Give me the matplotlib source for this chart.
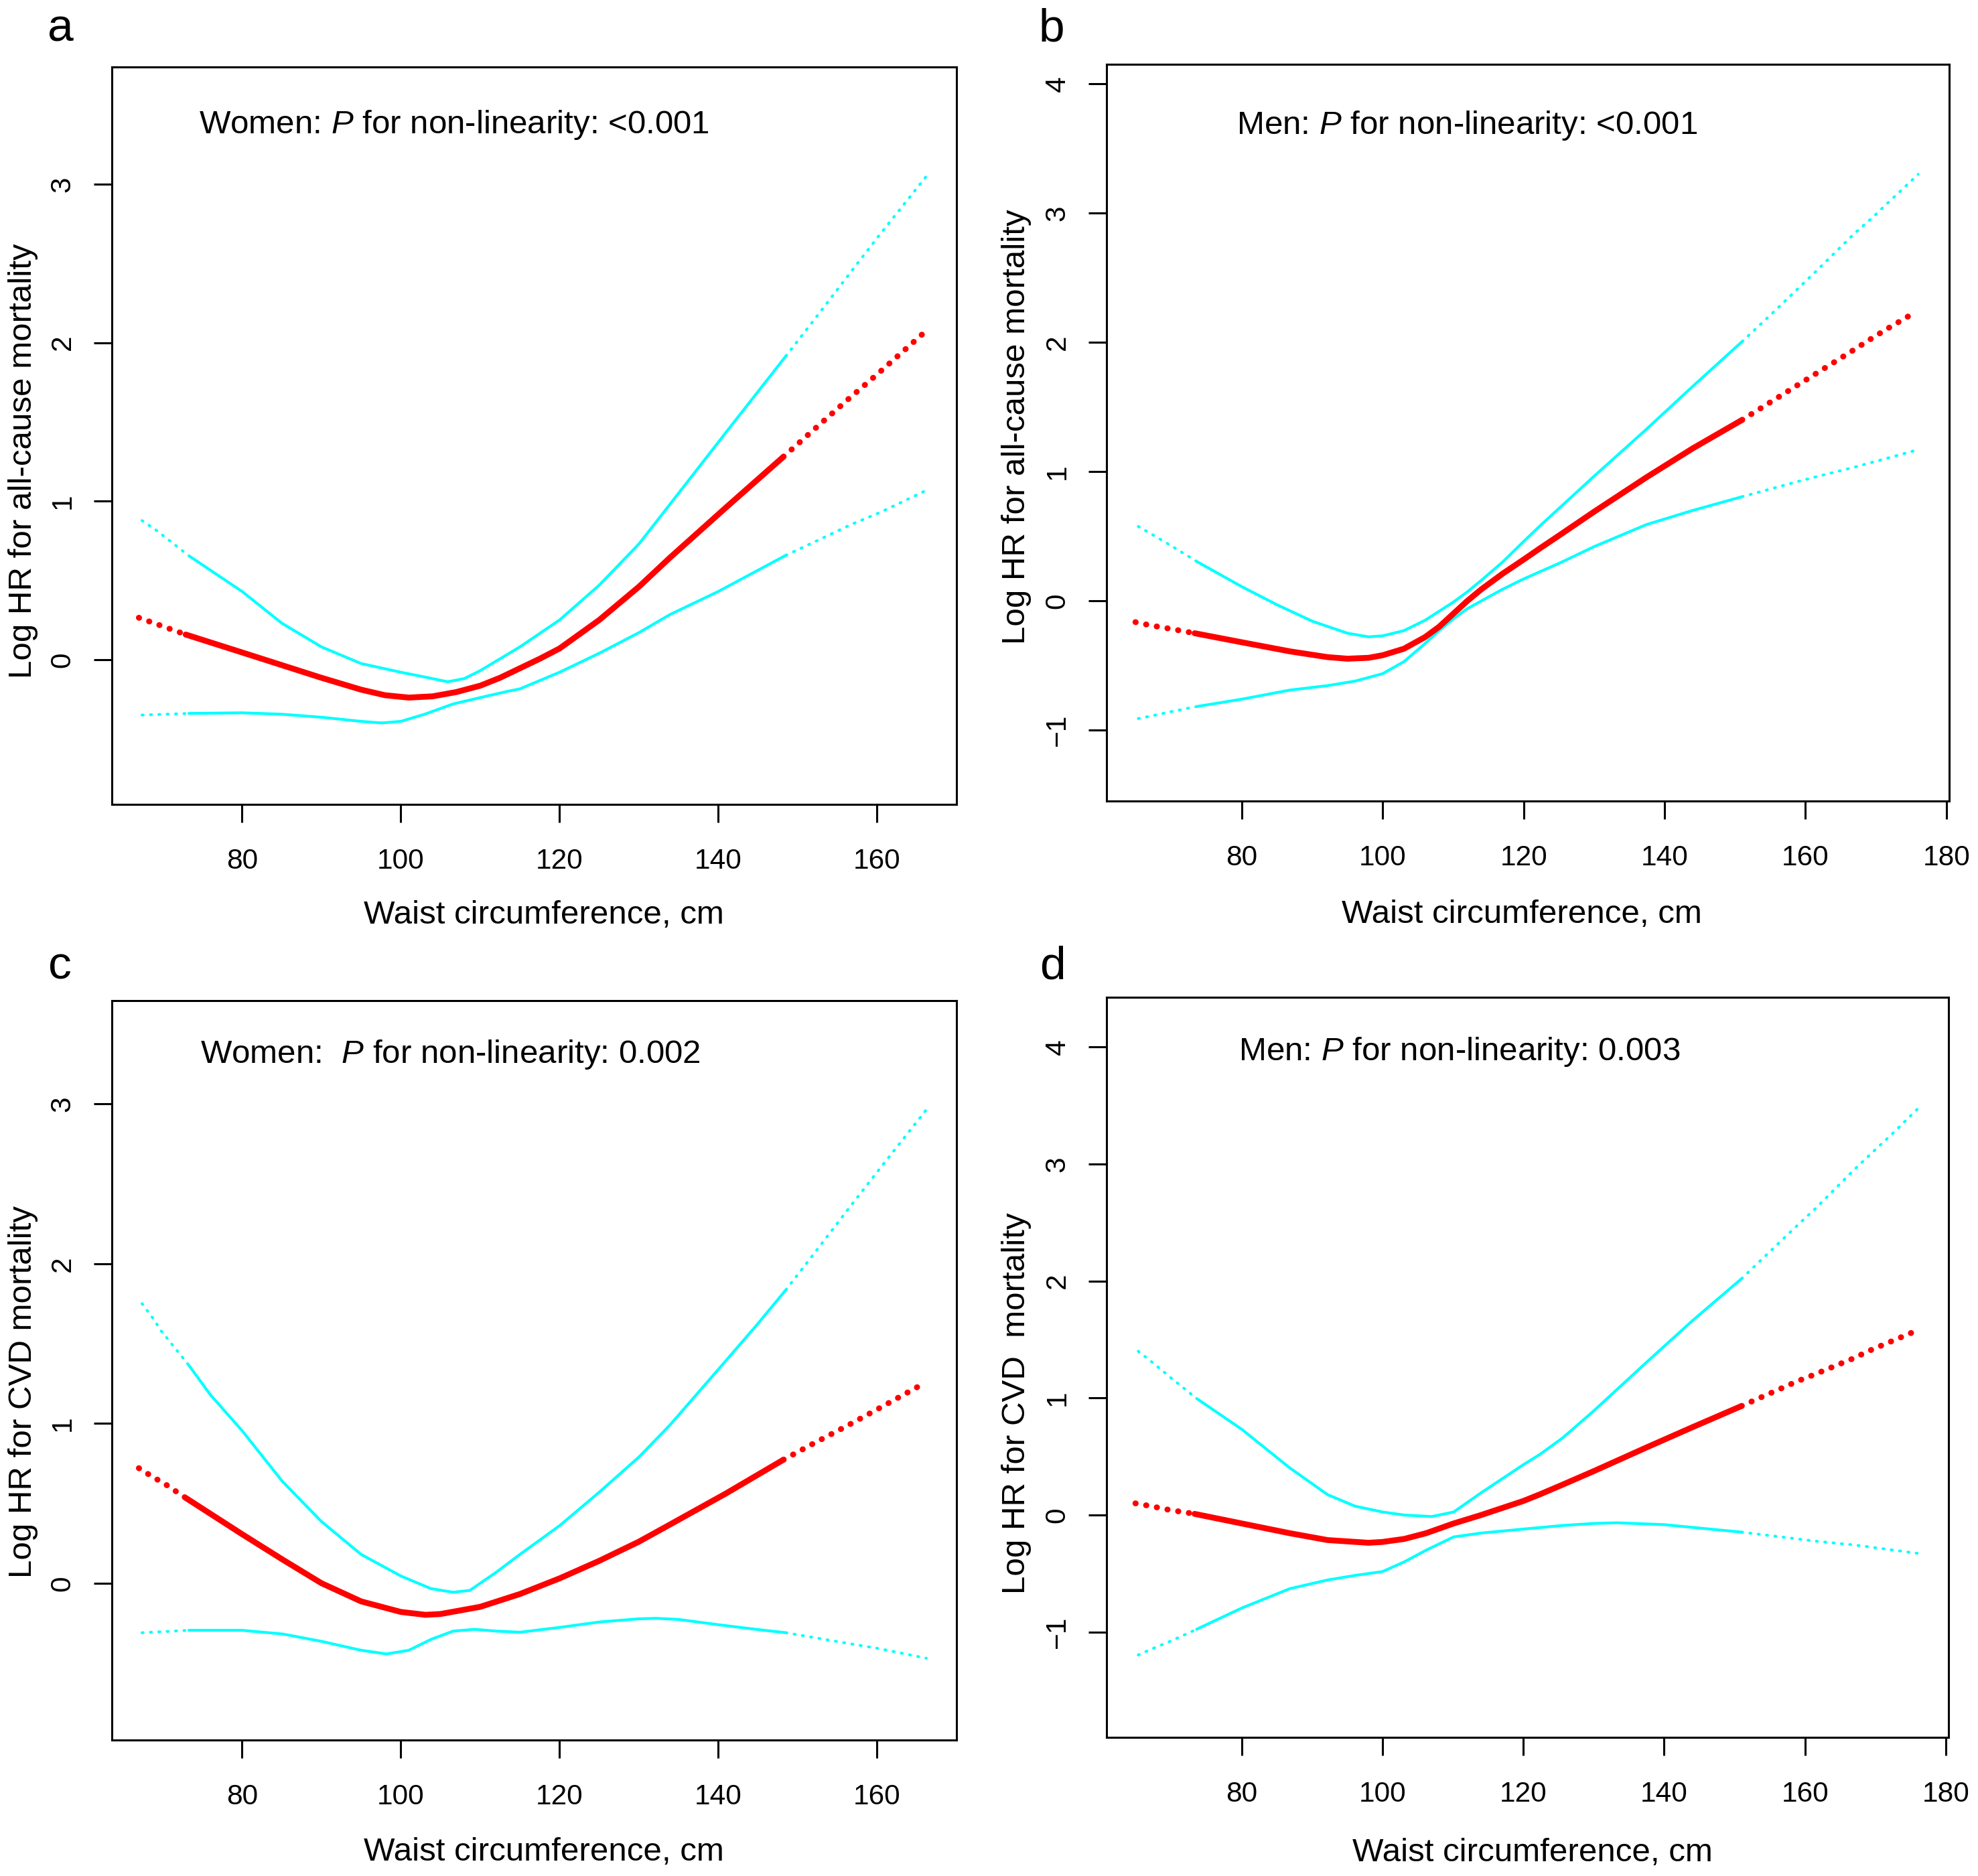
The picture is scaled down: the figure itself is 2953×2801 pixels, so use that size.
import matplotlib
matplotlib.use("Agg")
import matplotlib.pyplot as plt
import numpy as np

plt.rcParams['font.family'] = ['Liberation Sans', 'DejaVu Sans']
plt.rcParams['mathtext.fontset'] = 'custom'
plt.rcParams['mathtext.rm'] = 'Liberation Sans'
plt.rcParams['mathtext.it'] = 'Liberation Sans:italic'

# ---------------- Panel a: Women, all-cause ----------------
a_fit_x = [67.0, 72.9, 80, 85, 90, 95, 98, 101, 104, 107, 110, 112.5, 115, 117.5, 120, 125, 130,
           133.9, 140.9, 148.2, 152, 156.4, 160, 165.8]
a_fit_y = [0.264, 0.158, 0.045, -0.035, -0.115, -0.19, -0.225, -0.24, -0.232, -0.205, -0.165, -0.115,
           -0.055, 0.005, 0.07, 0.25, 0.46, 0.643, 0.957, 1.28, 1.45, 1.645, 1.80, 2.058]
a_up_x = [67.4, 69.1, 73.3, 80, 85, 90, 95, 100, 103, 105.9, 108, 110, 115, 120, 125, 130, 133.9,
          140.9, 148.5, 152, 156.7, 160.3, 166.2]
a_up_y = [0.877, 0.82, 0.655, 0.43, 0.23, 0.08, -0.025, -0.08, -0.11, -0.14, -0.12, -0.07, 0.08, 0.25,
          0.47, 0.73, 0.98, 1.43, 1.915, 2.14, 2.447, 2.68, 3.05]
a_lo_x = [67.4, 73.3, 80, 85, 90, 95, 97.6, 100, 103, 106.6, 110, 113.5, 115, 120, 125, 130, 133.9,
          140, 148.5, 152, 156.7, 160.3, 166.2]
a_lo_y = [-0.35, -0.34, -0.336, -0.345, -0.364, -0.39, -0.40, -0.39, -0.345, -0.28, -0.24, -0.20, -0.185,
          -0.08, 0.04, 0.17, 0.284, 0.43, 0.658, 0.74, 0.852, 0.927, 1.068]

# ---------------- Panel b: Men, all-cause ----------------
b_fit_x = [64.9, 67.1, 69.8, 73.3, 80, 86.8, 92.2, 95, 98, 100, 103, 106, 108, 110, 112, 114, 117, 120,
           122.4, 125, 130, 137.4, 144, 151, 158.9, 161.1, 166.8, 169.2, 171.6, 175.7]
b_fit_y = [-0.164, -0.19, -0.215, -0.25, -0.32, -0.39, -0.435, -0.447, -0.44, -0.42, -0.37, -0.28, -0.20,
           -0.10, 0.0, 0.09, 0.21, 0.32, 0.41, 0.505, 0.69, 0.955, 1.18, 1.40, 1.67, 1.745, 1.94, 2.024,
           2.105, 2.237]
b_up_x = [65.3, 67.4, 70, 73.6, 80, 85, 90, 95, 98, 100, 103, 106, 108, 110, 112, 114, 117, 120, 122.4,
          125, 130, 137.4, 144, 151, 155, 161.5, 166.9, 169.6, 172, 176]
b_up_y = [0.576, 0.51, 0.426, 0.305, 0.11, -0.03, -0.157, -0.25, -0.278, -0.27, -0.23, -0.15, -0.08,
          -0.01, 0.07, 0.16, 0.30, 0.46, 0.585, 0.715, 0.965, 1.327, 1.66, 2.006, 2.21, 2.55, 2.84, 2.97,
          3.095, 3.30]
b_lo_x = [65.3, 67.4, 70, 73.6, 80, 86.8, 92.2, 96.1, 100, 103, 106, 108, 110, 112, 114, 117, 120, 122.4,
          125, 130, 137.4, 144, 151, 159, 161.5, 166.9, 172, 176]
b_lo_y = [-0.91, -0.887, -0.856, -0.817, -0.76, -0.69, -0.655, -0.62, -0.5625, -0.47, -0.33, -0.23, -0.14,
          -0.06, 0.0, 0.09, 0.17, 0.228, 0.29, 0.42, 0.59, 0.70, 0.806, 0.925, 0.96, 1.034, 1.11, 1.17]

# ---------------- Panel c: Women, CVD ----------------
c_fit_x = [67.0, 68.6, 70.5, 72.9, 80, 85.1, 90, 95, 100, 103.1, 105, 110, 115, 120, 125, 130, 133.9,
           140.9, 148.2, 152, 156.4, 160, 165.8]
c_fit_y = [0.72, 0.67, 0.614, 0.534, 0.307, 0.148, 0.0, -0.114, -0.18, -0.198, -0.193, -0.148, -0.068,
           0.03, 0.14, 0.26, 0.367, 0.56, 0.773, 0.875, 0.99, 1.088, 1.248]
c_up_x = [67.4, 68.9, 69.8, 73.3, 76, 80, 85.1, 90, 95, 100, 103.8, 106.6, 108.7, 112, 115, 120, 125,
          130, 133.9, 140.9, 144.9, 148.5, 152, 156.7, 160.3, 166.2]
c_up_y = [1.75, 1.65, 1.58, 1.364, 1.18, 0.955, 0.636, 0.386, 0.18, 0.045, -0.034, -0.057, -0.045, 0.068,
          0.18, 0.36, 0.57, 0.79, 0.99, 1.39, 1.62, 1.836, 2.06, 2.364, 2.593, 2.964]
c_lo_x = [67.4, 73.3, 80, 85.1, 90, 95, 98.2, 101, 103.8, 106.6, 109.3, 112, 115, 120, 125, 130, 132.2,
          135, 140, 144.9, 148.5, 152, 156.7, 160.3, 166.2]
c_lo_y = [-0.31, -0.295, -0.295, -0.318, -0.364, -0.42, -0.443, -0.42, -0.352, -0.30, -0.289, -0.30,
          -0.307, -0.277, -0.243, -0.223, -0.22, -0.227, -0.26, -0.29, -0.31, -0.34, -0.38, -0.41, -0.47]

# ---------------- Panel d: Men, CVD ----------------
d_fit_x = [64.9, 67.1, 69.8, 73.3, 80, 86.8, 92.2, 98, 100, 103.1, 106.2, 110.1, 114, 120, 122.4, 125.6,
           130, 137.4, 144, 151, 158.9, 161.1, 166.8, 169.2, 171.6, 175.7]
d_fit_y = [0.10, 0.076, 0.043, 0.01, -0.072, -0.155, -0.214, -0.237, -0.23, -0.204, -0.155, -0.072, 0.0,
           0.12, 0.178, 0.26, 0.375, 0.575, 0.75, 0.932, 1.143, 1.195, 1.337, 1.406, 1.467, 1.572]
d_up_x = [65.3, 67.4, 70, 73.6, 80, 86.8, 92.2, 96.1, 100, 103.1, 107, 110.1, 114, 120, 122.4, 125.6,
          130, 137.4, 144, 151, 155, 159, 161.5, 166.9, 169.6, 172.1, 176.1]
d_up_y = [1.40, 1.30, 1.17, 0.996, 0.733, 0.404, 0.174, 0.076, 0.026, 0.0, -0.013, 0.026, 0.19, 0.43,
          0.52, 0.66, 0.89, 1.30, 1.66, 2.02, 2.25, 2.48, 2.62, 2.946, 3.10, 3.24, 3.476]
d_lo_x = [65.3, 67.4, 70, 73.6, 80, 86.8, 92.2, 96.1, 100, 103.1, 106.2, 110.1, 114, 120, 125.6, 130,
          133.3, 140, 151, 161.5, 166.9, 169.6, 172.1, 176.1]
d_lo_y = [-1.196, -1.14, -1.075, -0.976, -0.795, -0.63, -0.555, -0.516, -0.483, -0.40, -0.30, -0.187,
          -0.154, -0.12, -0.089, -0.072, -0.066, -0.082, -0.146, -0.223, -0.255, -0.276, -0.296, -0.328]

panel_letters = ['a', 'b', 'c', 'd']
notes = ['Women: $P$ for non-linearity: <0.001',
         'Men: $P$ for non-linearity: <0.001',
         'Women:  $P$ for non-linearity: 0.002',
         'Men: $P$ for non-linearity: 0.003']
ylabels = ['Log HR for all-cause mortality', 'Log HR for all-cause mortality',
           'Log HR for CVD mortality', 'Log HR for CVD  mortality']
xlabel = 'Waist circumference, cm'
xticks_women = [80, 100, 120, 140, 160]
xticks_men = [80, 100, 120, 140, 160, 180]
yticks_list = [[0, 1, 2, 3], [-1, 0, 1, 2, 3, 4], [0, 1, 2, 3], [-1, 0, 1, 2, 3, 4]]

series = [
    (a_fit_x, a_fit_y, a_up_x, a_up_y, a_lo_x, a_lo_y),
    (b_fit_x, b_fit_y, b_up_x, b_up_y, b_lo_x, b_lo_y),
    (c_fit_x, c_fit_y, c_up_x, c_up_y, c_lo_x, c_lo_y),
    (d_fit_x, d_fit_y, d_up_x, d_up_y, d_lo_x, d_lo_y),
]

# ---------------- layout / style ----------------
W, H = 2953, 2801
fig = plt.figure(figsize=(W / 100, H / 100), dpi=100)

boxes = [(167, 100, 1428, 1201), (1652, 96, 2910, 1196),
         (167, 1494, 1428, 2598), (1652, 1489, 2909, 2594)]
xlims = [(63.6, 170.0), (60.8, 180.4), (63.6, 170.0), (60.8, 180.4)]
ylims = [(-0.914, 3.74), (-1.548, 4.151), (-0.982, 3.647), (-1.90, 4.425)]
cuts = [(72.5, 150), (73, 151), (72.5, 150), (73, 151)]
note_pos = [(0.103, 0.921), (0.154, 0.917), (0.105, 0.9275), (0.157, 0.926)]
ylab_pos = [(-0.105, 0.466), (-0.107, 0.508), (-0.105, 0.471), (-0.107, 0.451)]
xlab_pos = [(0.5115, -0.150), (0.493, -0.154), (0.5115, -0.152), (0.506, -0.156)]
letter_pos = [(0.0241, 0.9782), (0.5252, 0.9782), (0.0244, 0.4784), (0.5256, 0.4784)]

RED = '#FF0000'
CYAN = '#00FFFF'
LW_FIT = 6.3
LW_CI = 3.0


def draw_curve(ax, x, y, color, lw, lo, hi, dash, z):
    x = np.asarray(x, dtype=float)
    y = np.asarray(y, dtype=float)
    i_lo = int(np.argmax(x >= lo))
    i_hi = len(x) - 1 - int(np.argmax(x[::-1] <= hi))
    ax.plot(x[:i_lo + 1], y[:i_lo + 1], color=color, lw=lw, ls=(0, dash),
            dash_capstyle='round', zorder=z)
    ax.plot(x[i_lo:i_hi + 1], y[i_lo:i_hi + 1], color=color, lw=lw,
            solid_capstyle='round', solid_joinstyle='round', zorder=z)
    ax.plot(x[i_hi:], y[i_hi:], color=color, lw=lw, ls=(0, dash),
            dash_capstyle='round', zorder=z)


for k in range(4):
    x0, y0, x1, y1 = boxes[k]
    ax = fig.add_axes([x0 / W, 1 - y1 / H, (x1 - x0) / W, (y1 - y0) / H])
    fx, fy, ux, uy, lx, ly = series[k]
    lo, hi = cuts[k]
    draw_curve(ax, ux, uy, CYAN, LW_CI, lo, hi, (0.4, 2.6), 2)
    draw_curve(ax, lx, ly, CYAN, LW_CI, lo, hi, (0.4, 2.6), 2)
    draw_curve(ax, fx, fy, RED, LW_FIT, lo, hi, (0.05, 1.8), 3)

    ax.set_xlim(*xlims[k])
    ax.set_ylim(*ylims[k])
    ax.set_xticks(xticks_women if k in (0, 2) else xticks_men)
    ax.set_yticks(yticks_list[k])
    for sp in ax.spines.values():
        sp.set_linewidth(2.2)
        sp.set_color('black')
    ax.tick_params(axis='both', direction='out', length=19.5, width=2.2,
                   labelsize=30.5, color='black')
    ax.tick_params(axis='x', pad=27)
    ax.tick_params(axis='y', pad=19, labelrotation=90)
    for lab in ax.get_yticklabels():
        lab.set_va('center')

    ax.set_xlabel(xlabel, fontsize=35.5)
    ax.xaxis.label.set_va('center')
    ax.xaxis.set_label_coords(*xlab_pos[k])
    ax.set_ylabel(ylabels[k], fontsize=35.5)
    ax.yaxis.label.set_va('center')
    ax.yaxis.set_label_coords(*ylab_pos[k])

    ax.text(note_pos[k][0], note_pos[k][1], notes[k], transform=ax.transAxes,
            fontsize=35.5, ha='left', va='center')

    fig.text(letter_pos[k][0], letter_pos[k][1], panel_letters[k], fontsize=50,
             ha='left', va='baseline')

fig.savefig('out.png', dpi=100, facecolor='white')
